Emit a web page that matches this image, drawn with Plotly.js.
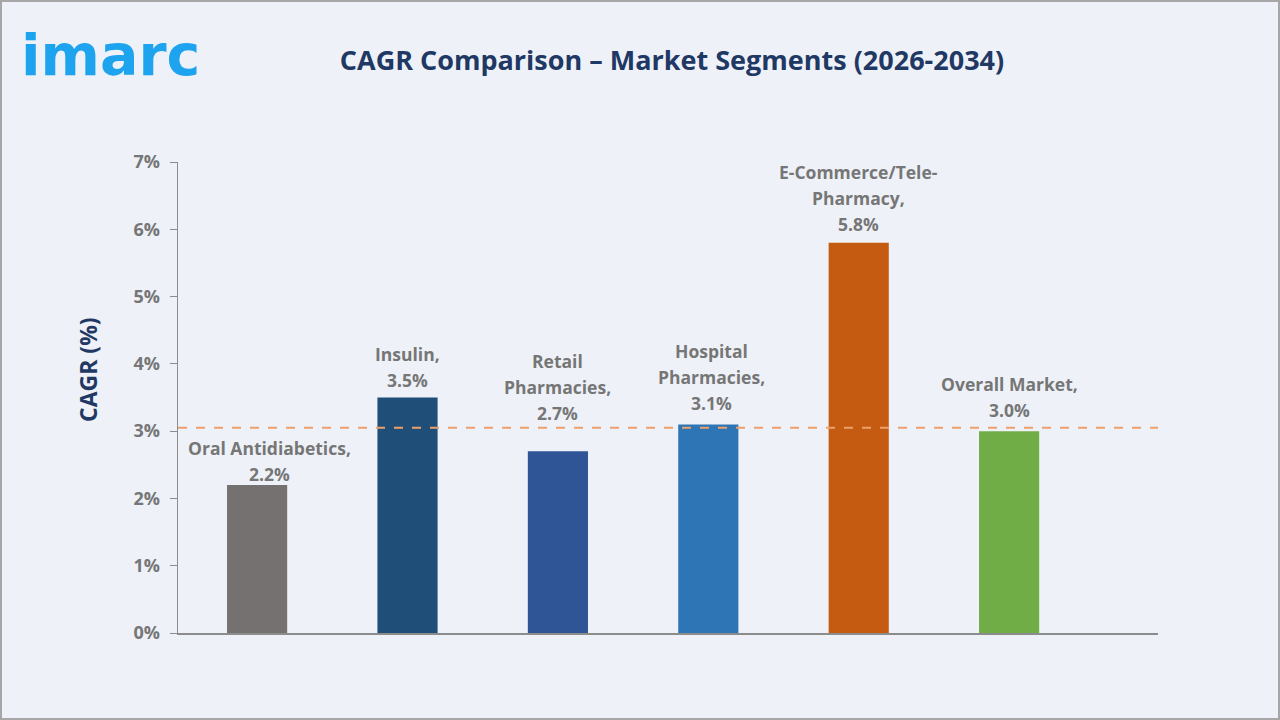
<!DOCTYPE html>
<html>
<head>
<meta charset="utf-8">
<script src="https://cdn.plot.ly/plotly-3.0.1.min.js"></script>
<style>
  html, body { margin: 0; padding: 0; background: #eef2f8; }
  #chart { width: 1280px; height: 720px; }
</style>
</head>
<body>
<div id="chart"></div>
<script>
// ---- Data ----
var categories = ["Oral Antidiabetics", "Insulin", "Retail Pharmacies", "Hospital Pharmacies", "E-Commerce/Tele-Pharmacy", "Overall Market"];
var labelLines = [["Oral Antidiabetics,"], ["Insulin,"], ["Retail", "Pharmacies,"], ["Hospital", "Pharmacies,"], ["E-Commerce/Tele-", "Pharmacy,"], ["Overall Market,"]];
var cagrValues = [2.2, 3.5, 2.7, 3.1, 5.8, 3.0];
var barColors = ["#767171", "#1f4e79", "#2f5597", "#2e75b6", "#c55a11", "#70ad47"];
var referenceLine = 3.05;
var yTickValues = [0, 1, 2, 3, 4, 5, 6, 7];
var yTickLabels = ["0%", "1%", "2%", "3%", "4%", "5%", "6%", "7%"];

// ---- Label placement (styling, pixels) ----
var labelGap = [11, 18, 38, 21, 19, 21];
var labelDx = [12, 0, 0, 3, 0, 0];
var LINE_H = 26;

// ---- Layout geometry ----
var W = 1280, H = 720;
var L = 178, R = 1158, T = 162, B = 633;
function px(x) { return (x - L) / (R - L); }
function py(y) { return (B - y) / (B - T); }

var FONT = "Open Sans, Liberation Sans, sans-serif";
var labelFont = { family: FONT, size: 17.5, color: "#767676", weight: 700 };

var trace = {
  type: "bar",
  x: categories,
  y: cagrValues,
  marker: { color: barColors, line: { width: 0 } },
  width: 0.4,
  hoverinfo: "skip"
};

var annotations = [];
categories.forEach(function (c, i) {
  var lines = labelLines[i].concat([cagrValues[i].toFixed(1) + "%"]);
  var n = lines.length;
  lines.forEach(function (t, k) {
    var fromBottom = n - 1 - k;
    annotations.push({
      text: t, x: c, y: cagrValues[i], xref: "x", yref: "y",
      xanchor: "center", yanchor: "middle",
      xshift: labelDx[i], yshift: labelGap[i] + fromBottom * LINE_H,
      showarrow: false, font: labelFont
    });
  });
});

annotations.push({
  text: "<b>imarc</b>",
  xref: "paper", yref: "paper",
  x: px(19), y: py(55),
  xanchor: "left", yanchor: "middle",
  showarrow: false,
  font: { family: "DejaVu Sans, sans-serif", size: 57, color: "#1ea4ee" }
});
annotations.push({
  text: "<b>CAGR (%)</b>",
  xref: "paper", yref: "paper",
  x: px(88), y: py(370),
  xanchor: "center", yanchor: "middle",
  textangle: -90,
  showarrow: false,
  font: { family: FONT, size: 23, color: "#1f3864" }
});

var layout = {
  width: W,
  height: H,
  margin: { l: L, r: W - R, t: T, b: H - B, pad: 0 },
  paper_bgcolor: "#eef2f8",
  plot_bgcolor: "#eef2f8",
  showlegend: false,
  title: {
    text: "<b>CAGR Comparison – Market Segments (2026-2034)</b>",
    font: { family: FONT, size: 27, color: "#1f3864" },
    xref: "container", yref: "container",
    x: 672 / W, y: 1 - 61 / H, xanchor: "center", yanchor: "middle"
  },
  xaxis: {
    range: [-0.526, 5.99],
    showticklabels: false,
    ticks: "",
    showgrid: false,
    zeroline: false,
    showline: true,
    linecolor: "#8c8c8c",
    linewidth: 1.5,
    fixedrange: true
  },
  yaxis: {
    range: [0, 7],
    tickvals: yTickValues,
    ticktext: yTickLabels,
    ticks: "outside",
    ticklen: 7,
    tickcolor: "#8c8c8c",
    tickwidth: 1,
    showgrid: false,
    zeroline: false,
    showline: true,
    linecolor: "#8c8c8c",
    linewidth: 1.5,
    ticklabelstandoff: 6,
    tickfont: { family: FONT, size: 18, color: "#767676", weight: 700 },
    fixedrange: true
  },
  shapes: [
    {
      type: "line", xref: "paper", yref: "y",
      x0: 0, x1: 1, y0: referenceLine, y1: referenceLine,
      line: { color: "#eda06a", width: 2, dash: "dash" }
    },
    {
      type: "rect", xref: "paper", yref: "paper",
      x0: px(1), x1: px(W - 1), y0: py(H - 1), y1: py(1),
      line: { color: "#a6a6a6", width: 2 },
      fillcolor: "rgba(0,0,0,0)", layer: "above"
    }
  ],
  annotations: annotations
};

Plotly.newPlot("chart", [trace], layout, { displayModeBar: false, staticPlot: true });
</script>
</body>
</html>
